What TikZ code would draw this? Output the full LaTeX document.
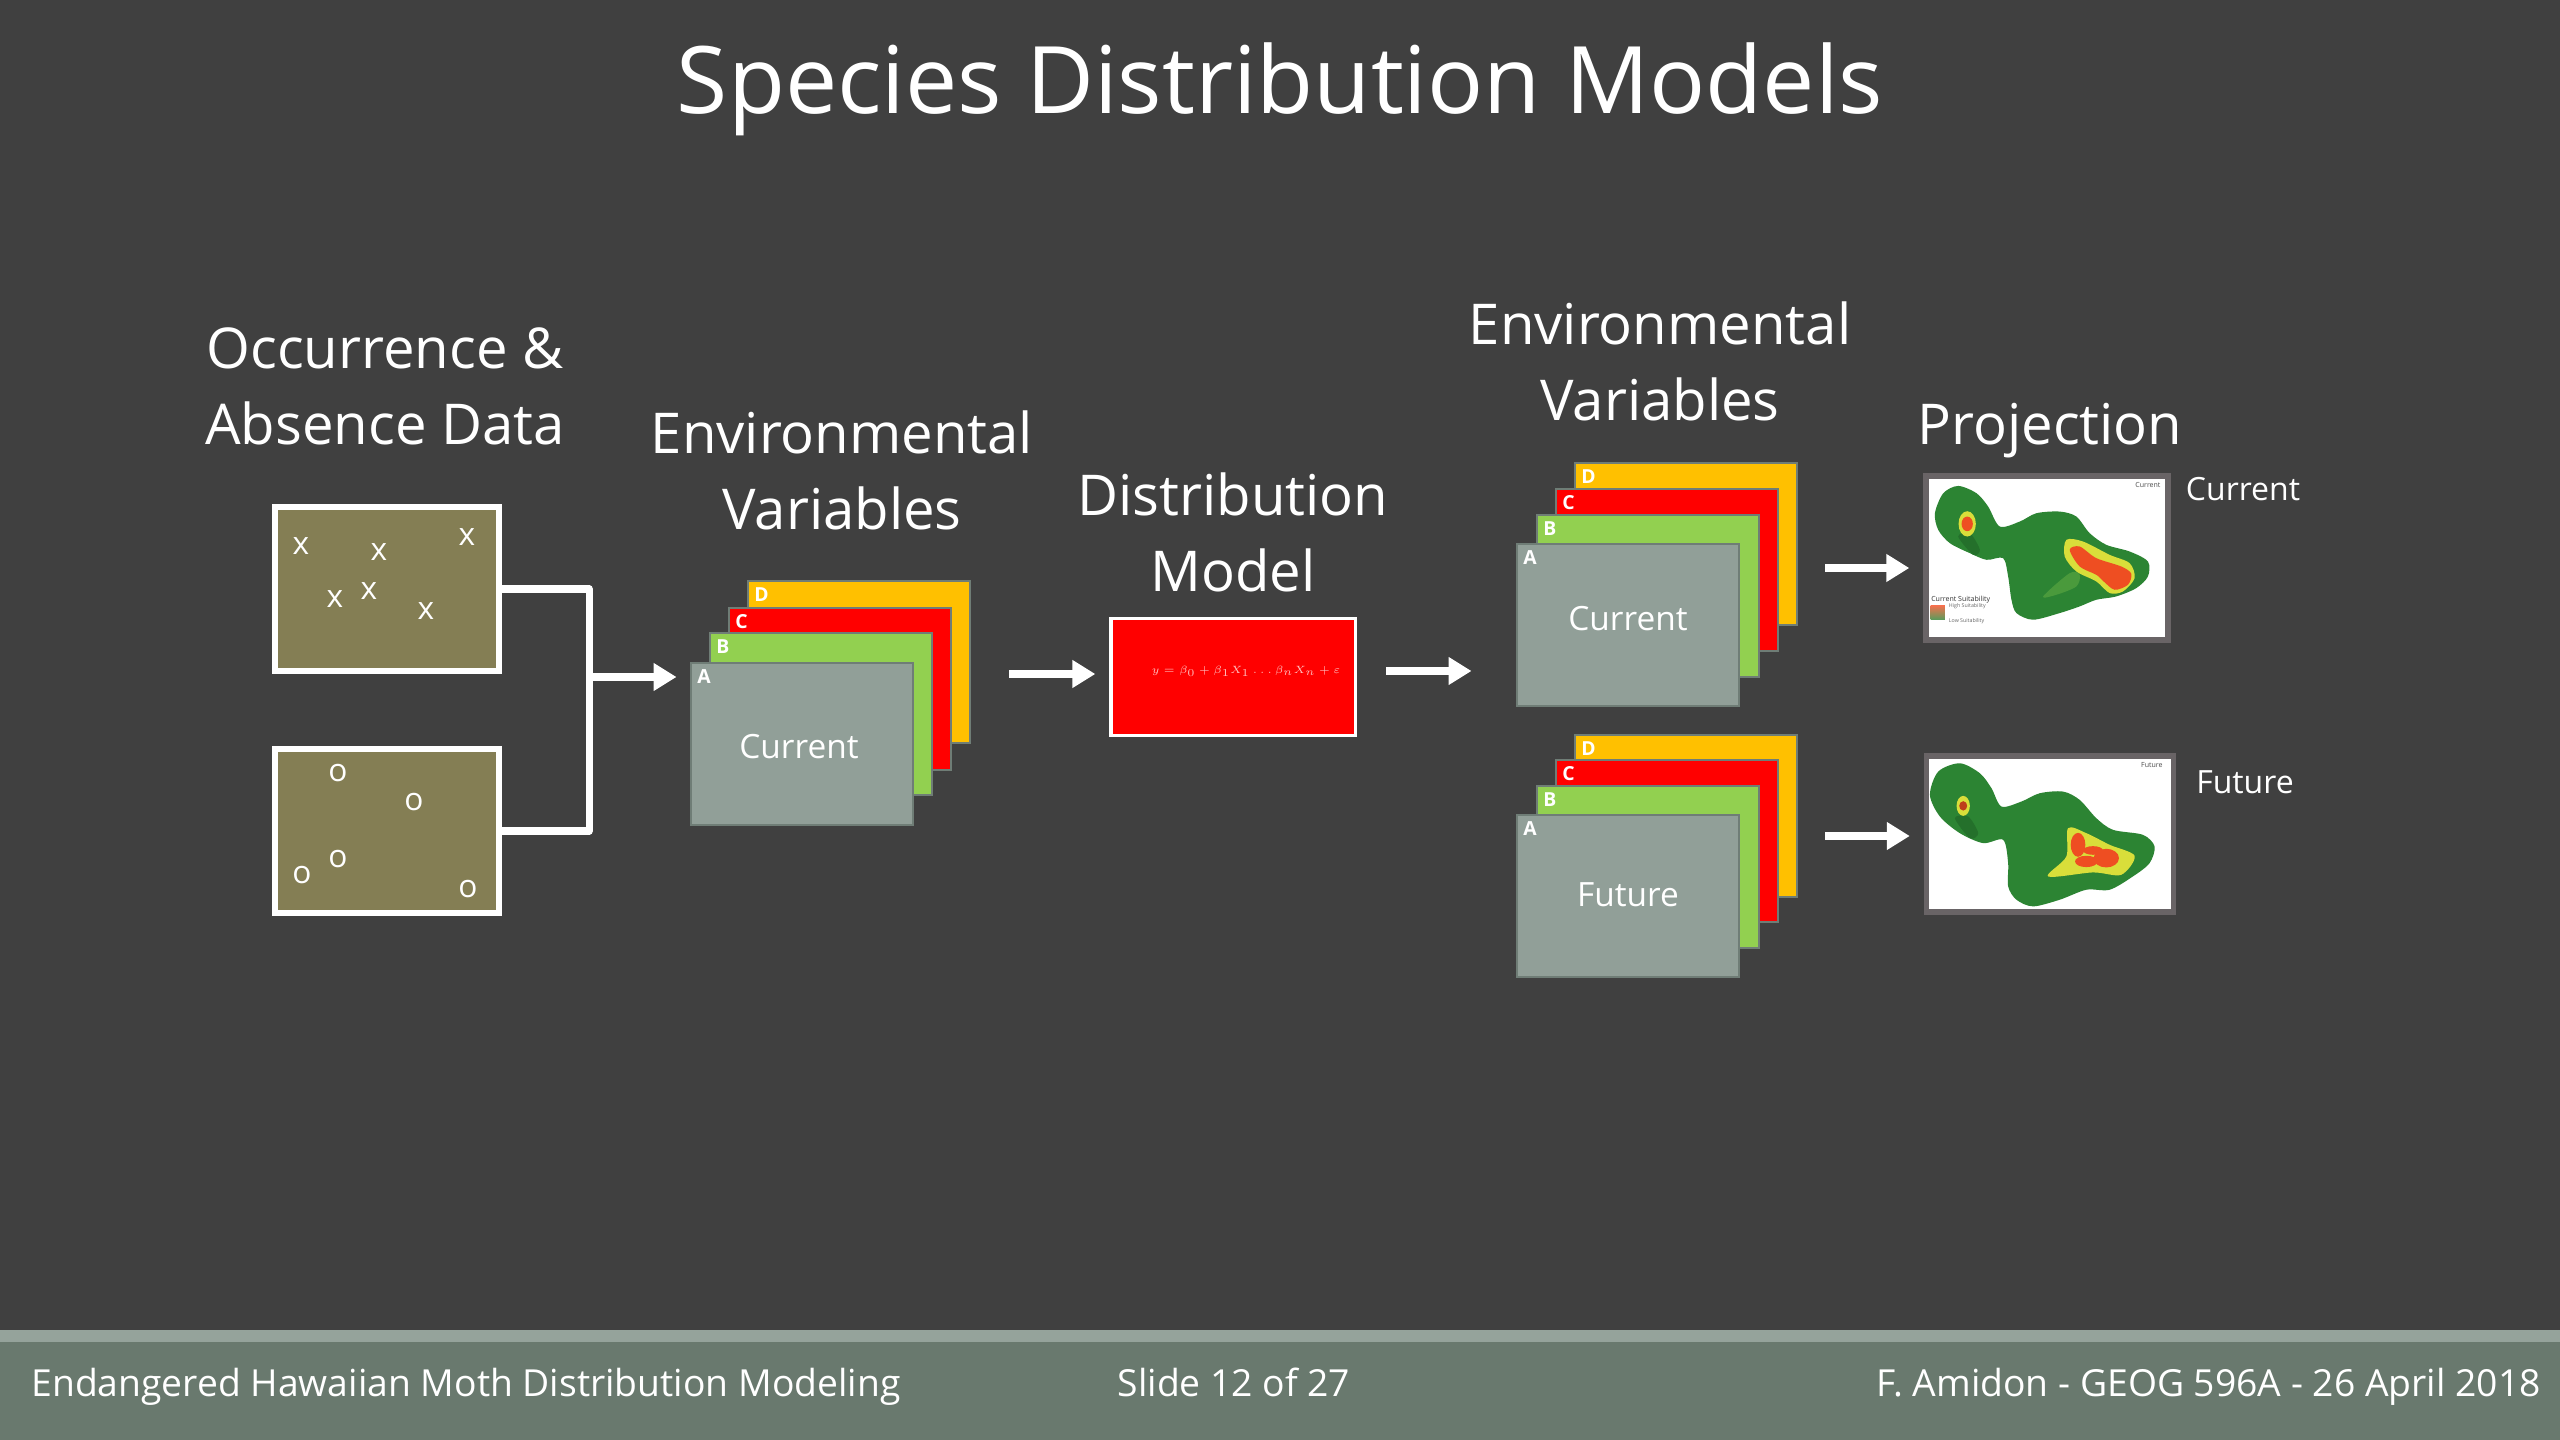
\documentclass[tikz,border=0pt]{standalone}
\usepackage{fontspec}
\setmainfont{Open Sans}
\usetikzlibrary{arrows.meta}
\definecolor{slidebg}{HTML}{404040}
\definecolor{footbg}{HTML}{69796E}
\definecolor{footbar}{HTML}{95A39B}
\definecolor{olivebox}{HTML}{847E54}
\definecolor{layerA}{HTML}{919F98}
\definecolor{layerB}{HTML}{92D050}
\definecolor{layerC}{HTML}{FF0000}
\definecolor{layerD}{HTML}{FFC000}
\definecolor{layeredge}{HTML}{6F7D76}
\definecolor{mapedge}{HTML}{696466}
\definecolor{mapgreen}{HTML}{2C8433}
\definecolor{mapdark}{HTML}{24702B}
\definecolor{maplight}{HTML}{4A9A3C}
\definecolor{mapyellow}{HTML}{D9DE3A}
\definecolor{mapred}{HTML}{EE4E22}
\tikzset{
	heading/.style={text=white, font=\fontsize{16}{21.6}\selectfont, align=center},
	occbox/.style={draw=white, line width=1.7pt, fill=olivebox, minimum width=2.24cm, minimum height=1.64cm, inner sep=0pt},
	symb/.style={text=white, font=\fontsize{9}{9}\selectfont, inner sep=0pt},
	layer/.style={draw=layeredge, line width=0.8pt, minimum width=2.22cm, minimum height=1.62cm, inner sep=0pt},
	layertext/.style={text=white, font=\fontsize{9.5}{12}\selectfont, inner sep=0pt},
	letter/.style={text=white, font=\fontsize{5.5}{7}\selectfont\bfseries, inner sep=2pt, anchor=north west},
	wire/.style={draw=white, line width=2pt, line join=round},
	flow/.style={draw=white, line width=2pt, -{Triangle[length=6.5pt,width=7.5pt]}},
	mapframe/.style={draw=mapedge, line width=1.5pt, fill=white, inner sep=0pt},
	sidetext/.style={text=white, font=\fontsize{9.1}{11}\selectfont},
	foottext/.style={text=white, font=\fontsize{10.6}{13}\selectfont}
}
\begin{document}
\begin{tikzpicture}[x=0.01cm, y=-0.01cm]
	\useasboundingbox (0,0) rectangle (2560,1440);
	\fill[slidebg] (0,0) rectangle (2560,1440);
	\fill[footbg] (0,1342) rectangle (2560,1440);
	\fill[footbar] (0,1330) rectangle (2560,1342);

	\node[text=white, font=\fontsize{26.5}{30}\selectfont] (title) at (1280,89) {Species Distribution Models};
	\node[heading] (occlabel) at (385,386) {Occurrence \&\\Absence Data};
	\node[heading] (envlabel) at (842,470) {Environmental\\Variables};
	\node[heading] (modellabel) at (1233,532) {Distribution\\Model};
	\node[heading] (envlabeltwo) at (1660,361) {Environmental\\Variables};
	\node[heading] (projlabel) at (2050,431) {Projection};

	\node[occbox] (occbox) at (387,589) {};
	\node[occbox] (absbox) at (387,831) {};
	\node[symb] (xa) at (301,546) {x};
	\node[symb] (xb) at (379,552) {x};
	\node[symb] (xc) at (335,599) {x};
	\node[symb] (xd) at (369,591) {x};
	\node[symb] (xe) at (426,611) {x};
	\node[symb] (xf) at (467,537) {x};
	\node[symb] (oa) at (338,773) {o};
	\node[symb] (ob) at (414,802) {o};
	\node[symb] (oc) at (338,859) {o};
	\node[symb] (od) at (302,875) {o};
	\node[symb] (oe) at (468,889) {o};

	\node[layer, fill=layerD, label={[letter]north west:D}] (envD) at (859,662) {};
	\node[layer, fill=layerC, label={[letter]north west:C}] (envC) at (840,689) {};
	\node[layer, fill=layerB, label={[letter]north west:B}] (envB) at (821,714) {};
	\node[layer, fill=layerA, label={[letter]north west:A}] (envA) at (802,744) {};
	\node[layertext] (envtext) at (799,747) {Current};

	\node[draw=white, line width=0.9pt, fill=red, minimum width=2.44cm, minimum height=1.17cm, inner sep=0pt] (model) at (1233,677) {};
	\node[text=white!75!red, font=\fontsize{5.5}{6}\selectfont, scale=0.6] (eqn) at (1246,671) {$y=\beta_0+\beta_1X_1\ldots\beta_nX_n+\varepsilon$};

	\node[layer, fill=layerD, label={[letter]north west:D}] (curD) at (1686,544) {};
	\node[layer, fill=layerC, label={[letter]north west:C}] (curC) at (1667,570) {};
	\node[layer, fill=layerB, label={[letter]north west:B}] (curB) at (1648,596) {};
	\node[layer, fill=layerA, label={[letter]north west:A}] (curA) at (1628,625) {};
	\node[layertext] (curlayertext) at (1628,619) {Current};

	\node[layer, fill=layerD, label={[letter]north west:D}] (futD) at (1686,816) {};
	\node[layer, fill=layerC, label={[letter]north west:C}] (futC) at (1667,841) {};
	\node[layer, fill=layerB, label={[letter]north west:B}] (futB) at (1648,867) {};
	\node[layer, fill=layerA, label={[letter]north west:A}] (futA) at (1628,896) {};
	\node[layertext] (futlayertext) at (1628,895) {Future};

	\node[mapframe, minimum width=2.42cm, minimum height=1.64cm] (mapcur) at (2047,558) {};
	\node[mapframe, minimum width=2.47cm, minimum height=1.56cm] (mapfut) at (2050,834) {};

	\begin{scope}[shift={(1880,450)}, x=0.00333cm, y=-0.00333cm]
		\fill[mapgreen] plot[smooth cycle] coordinates {(165,190) (190,130) (235,108) (290,130) (325,170) (360,230) (420,215) (470,190) (540,185) (590,200) (630,250) (680,285) (750,305) (805,335) (805,380) (770,415) (710,440) (650,450) (600,470) (540,490) (460,510) (410,490) (395,450) (385,380) (370,325) (320,330) (270,310) (210,280) (175,240)};
		\fill[mapdark] plot[smooth cycle] coordinates {(235,260) (270,250) (300,300) (280,315)};
		\fill[maplight] plot[smooth cycle] coordinates {(490,440) (570,370) (600,375) (590,410) (530,435)};
		\fill[mapyellow] (262,222) ellipse (26 and 38);
		\fill[mapred] (262,222) ellipse (17 and 22);
		\fill[mapyellow] plot[smooth cycle] coordinates {(560,270) (610,275) (690,315) (750,340) (765,385) (730,425) (690,430) (650,395) (590,365) (555,320)};
		\fill[mapred] plot[smooth cycle] coordinates {(570,300) (600,290) (650,325) (725,350) (755,372) (745,405) (705,420) (672,395) (650,375) (600,350)};
		\shade[top color=mapred!80, middle color=mapyellow, bottom color=mapgreen!80] (152,468) rectangle (195,510);
		\node[text=black!70, font=\fontsize{2}{2}\selectfont, inner sep=0pt] (mapcurtag) at (805,105) {Current};
		\node[text=black!80, font=\fontsize{2}{2}\selectfont, inner sep=0pt, anchor=west] (mapcurhead) at (152,449) {Current Suitability};
		\node[text=black!60, font=\fontsize{1.5}{2}\selectfont, inner sep=0pt, anchor=west] (mapcurhigh) at (205,468) {High Suitability};
		\node[text=black!60, font=\fontsize{1.5}{2}\selectfont, inner sep=0pt, anchor=west] (mapcurlow) at (205,513) {Low Suitability};
	\end{scope}

	\begin{scope}[shift={(1880,730)}, x=0.00333cm, y=-0.00333cm]
		\fill[mapgreen] plot[smooth cycle] coordinates {(150,195) (175,125) (240,100) (300,130) (335,175) (365,230) (425,215) (480,190) (550,185) (600,210) (650,265) (700,300) (790,315) (825,350) (810,400) (760,440) (690,480) (620,480) (540,510) (460,530) (410,510) (385,470) (385,400) (370,330) (310,340) (240,310) (180,260)};
		\fill[mapdark] plot[smooth cycle] coordinates {(225,265) (265,260) (295,310) (270,325)};
		\fill[mapyellow] (250,228) ellipse (20 and 30);
		\fill[mapred!80!black] (250,228) ellipse (12 and 14);
		\fill[mapyellow] plot[smooth cycle] coordinates {(565,295) (620,310) (690,345) (765,378) (725,435) (640,428) (505,440) (560,380)};
		\fill[mapred] (595,345) ellipse (22 and 36);
		\fill[mapred] (620,395) ellipse (34 and 17);
		\fill[mapred] (680,385) ellipse (38 and 28);
		\fill[mapred] (640,362) ellipse (30 and 13);
		\node[text=black!70, font=\fontsize{2}{2}\selectfont, inner sep=0pt] (mapfuttag) at (817,105) {Future};
	\end{scope}

	\node[sidetext] (curtext) at (2243,489) {Current};
	\node[sidetext] (futtext) at (2245,782) {Future};

	\draw[wire] (occbox.east) -- ++(87,0) |- (absbox.east);
	\coordinate (joint) at (587,677);
	\coordinate (envout) at (1009,674);
	\coordinate (modelout) at (1386,671);
	\coordinate (curout) at (1825,568);
	\coordinate (futout) at (1825,836);
	\draw[flow, shorten >=0.13cm] (joint) -- (joint -| envA.west);
	\draw[flow, shorten >=0.14cm] (envout) -- (envout -| model.west);
	\draw[flow, shorten >=0.44cm] (modelout) -- (modelout -| curA.west);
	\draw[flow, shorten >=0.14cm] (curout) -- (curout -| mapcur.west);
	\draw[flow, shorten >=0.14cm] (futout) -- (futout -| mapfut.west);

	\node[foottext, anchor=base west] (footleft) at (19,1396) {Endangered Hawaiian Moth Distribution Modeling};
	\node[foottext, anchor=base] (footmid) at (1234,1396) {Slide 12 of 27};
	\node[foottext, anchor=base east] (footright) at (2553,1396) {F. Amidon - GEOG 596A - 26 April 2018};
\end{tikzpicture}
\end{document}
